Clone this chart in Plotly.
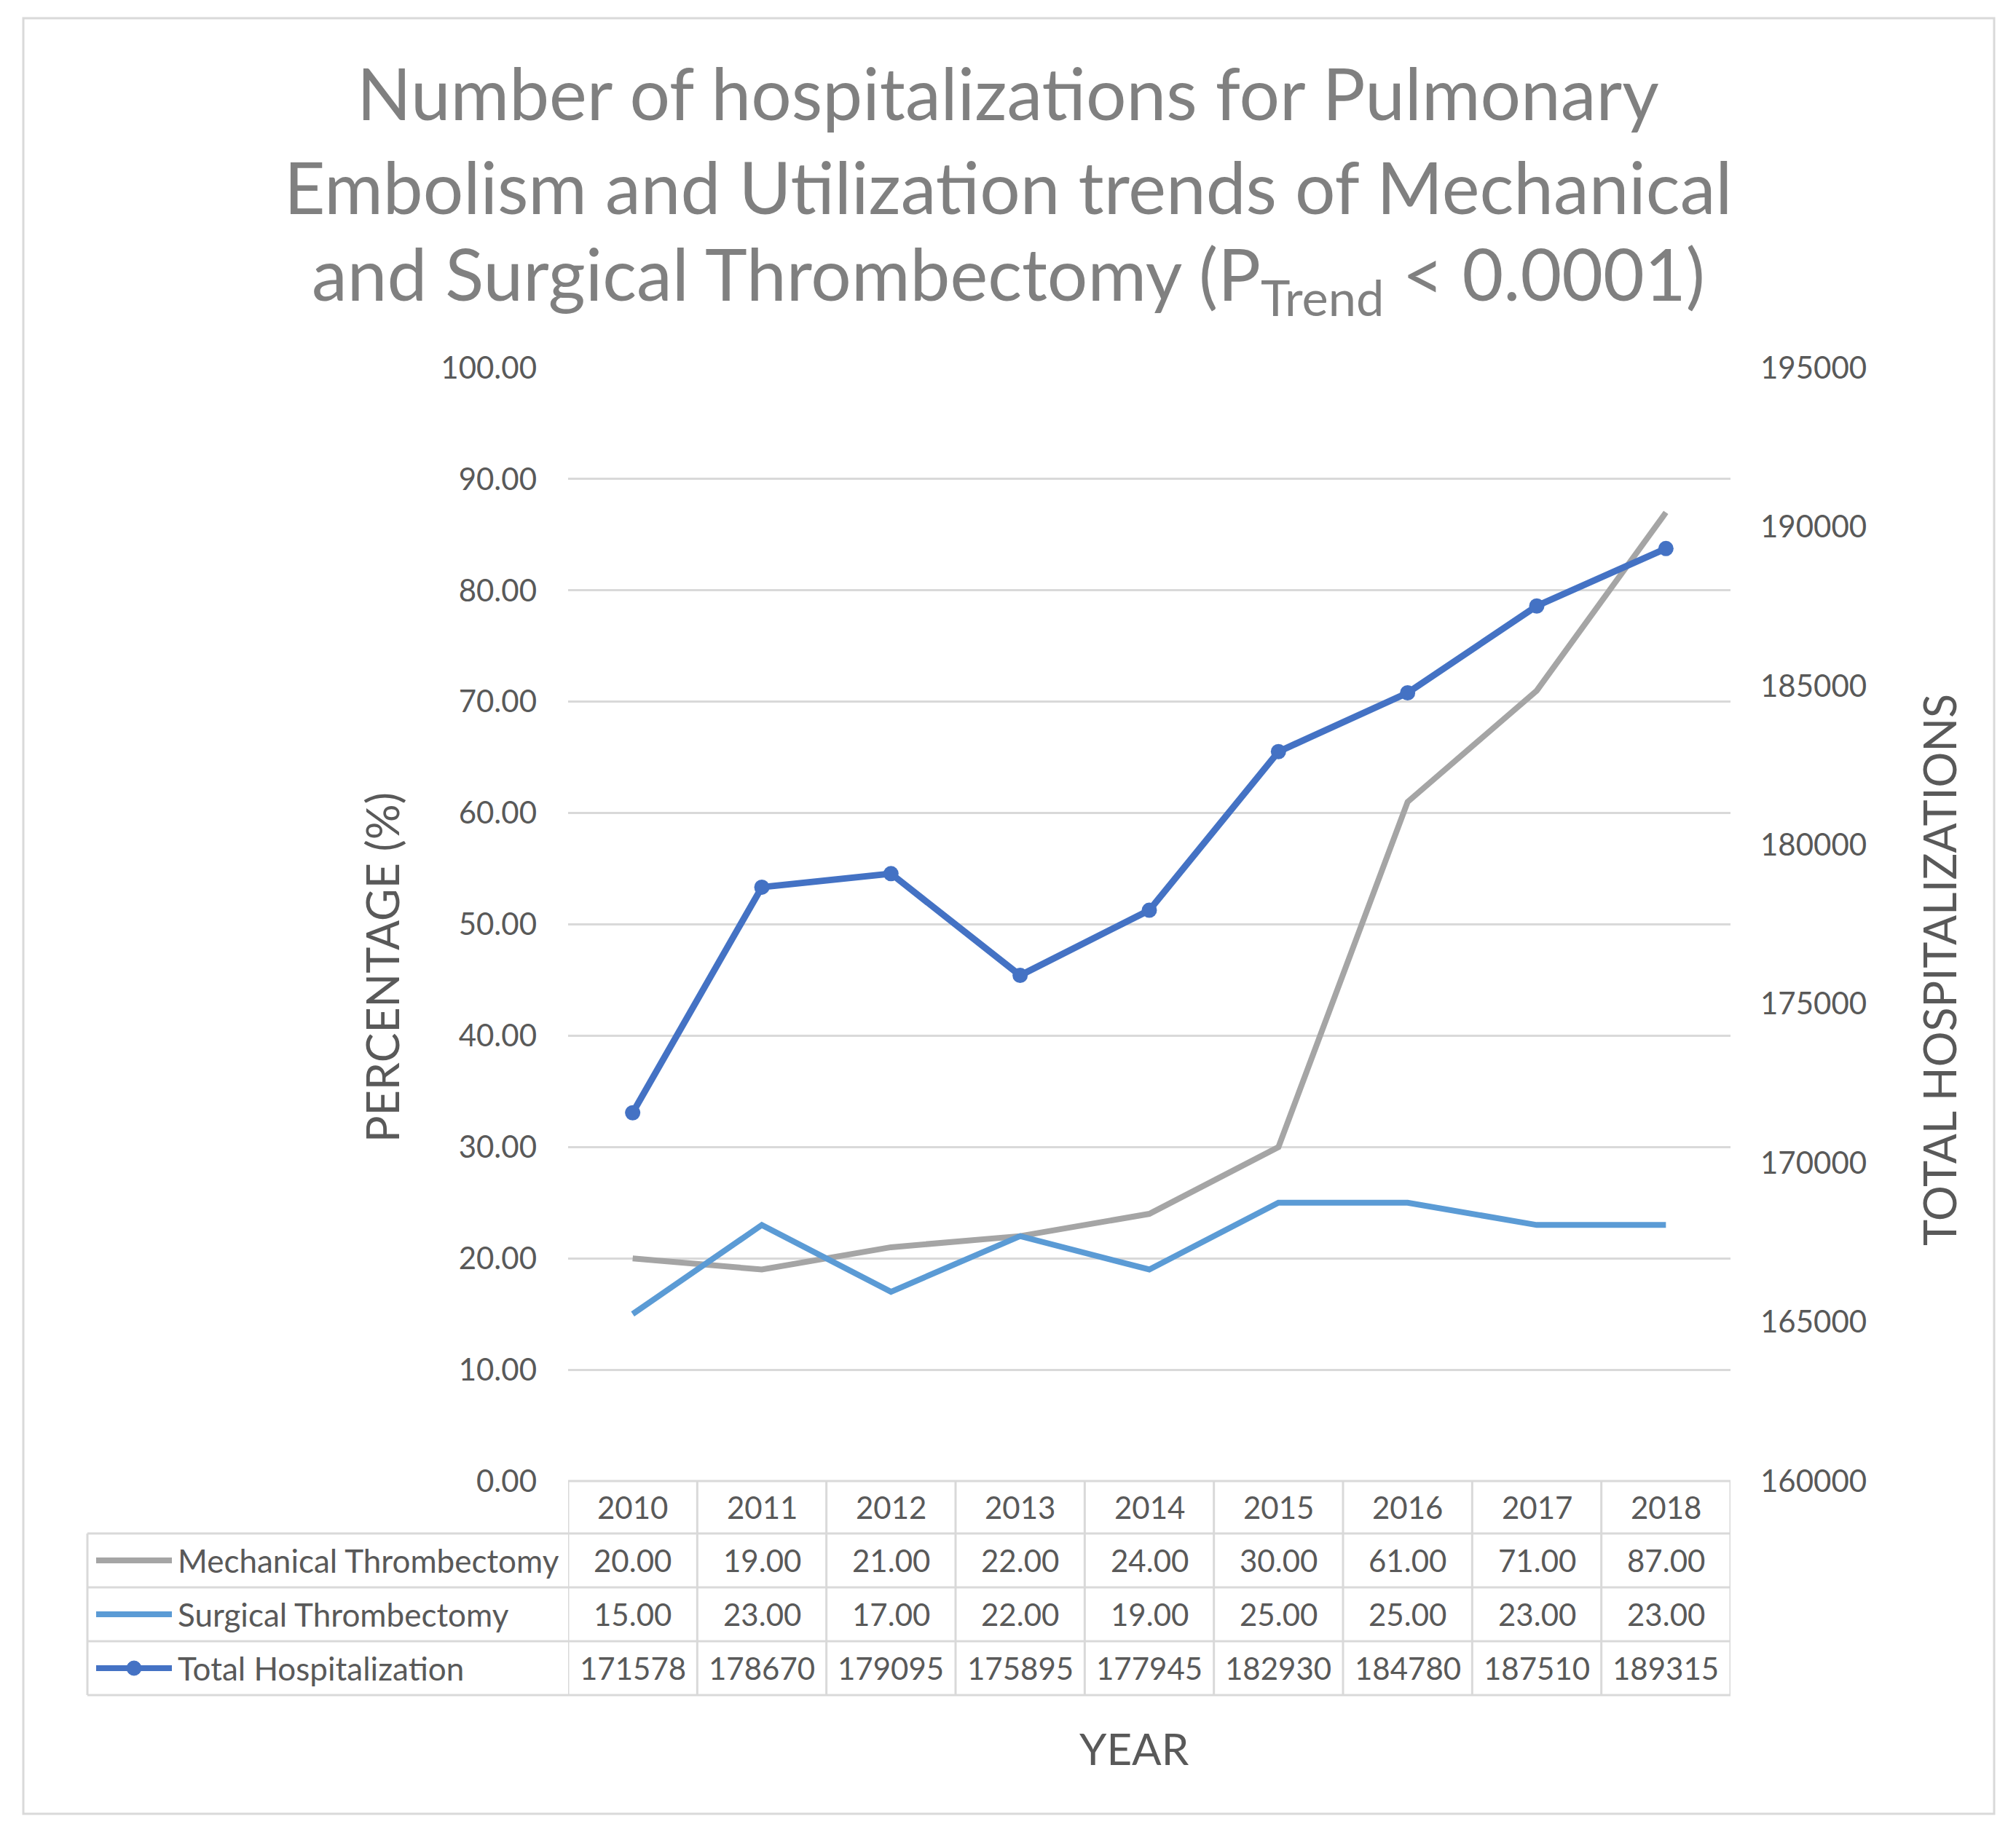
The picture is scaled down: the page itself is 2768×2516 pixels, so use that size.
import plotly.graph_objects as go

# ---------------- data ----------------
years = [2010, 2011, 2012, 2013, 2014, 2015, 2016, 2017, 2018]
mechanical = [20, 19, 21, 22, 24, 30, 61, 71, 87]
surgical = [15, 23, 17, 22, 19, 25, 25, 23, 23]
total_hosp = [171578, 178670, 179095, 175895, 177945, 182930, 184780, 187510, 189315]
series_names = ["Mechanical Thrombectomy", "Surgical Thrombectomy", "Total Hospitalization"]
left_ticks = [0, 10, 20, 30, 40, 50, 60, 70, 80, 90, 100]
right_ticks = [160000, 165000, 170000, 175000, 180000, 185000, 190000, 195000]

# ---------------- style ----------------
OFF = 8  # page body margin
W, H = 2768 - OFF, 2516 - OFF
PL, PR, PT, PB = 780, 2376, 505, 2034  # plot area in reference pixel coords
FONT = "Lato"
C_MECH = "#a5a5a5"
C_SURG = "#5b9bd5"
C_TOT = "#4472c4"
C_TXT = "#595959"
C_GRID = "#d9d9d9"


def px_x(px):
    return (px - PL) / (PR - PL)


def px_y(py):
    return (PB - py) / (PB - PT)


fig = go.Figure()
fig.add_trace(go.Scatter(x=years, y=mechanical, mode="lines", name=series_names[0],
                         line=dict(color=C_MECH, width=8)))
fig.add_trace(go.Scatter(x=years, y=surgical, mode="lines", name=series_names[1],
                         line=dict(color=C_SURG, width=8)))
fig.add_trace(go.Scatter(x=years, y=total_hosp, mode="lines+markers", name=series_names[2],
                         yaxis="y2", line=dict(color=C_TOT, width=9),
                         marker=dict(color=C_TOT, size=21)))

shapes = []
annotations = []

# outer border
shapes.append(dict(type="rect", xref="paper", yref="paper",
                   x0=px_x(32), x1=px_x(2738), y0=px_y(2491), y1=px_y(25),
                   line=dict(color=C_GRID, width=3), layer="below"))

# table geometry
row_px = [2034, 2106, 2180, 2254, 2328]
left_px = 120
x_lo = years[0] - 0.5
x_hi = years[-1] + 0.5
tline = dict(color=C_GRID, width=3)
shapes.append(dict(type="line", xref="x", yref="paper", x0=x_lo, x1=x_hi,
                   y0=px_y(row_px[0]), y1=px_y(row_px[0]), line=tline))
for rp in row_px[1:]:
    shapes.append(dict(type="line", xref="paper", yref="paper", x0=px_x(left_px), x1=1,
                       y0=px_y(rp), y1=px_y(rp), line=tline))
shapes.append(dict(type="line", xref="paper", yref="paper", x0=px_x(left_px), x1=px_x(left_px),
                   y0=px_y(row_px[1]), y1=px_y(row_px[-1]), line=tline))
for i in range(len(years) + 1):
    xv = x_lo + i
    shapes.append(dict(type="line", xref="x", yref="paper", x0=xv, x1=xv,
                       y0=px_y(row_px[0]), y1=px_y(row_px[-1]), line=tline))

tfont = dict(family=FONT, size=42, color=C_TXT)
lfont = dict(family=FONT, size=44, color=C_TXT)
for yr in years:
    annotations.append(dict(x=yr, y=px_y((row_px[0] + row_px[1]) / 2), xref="x", yref="paper",
                            text=str(yr), showarrow=False, font=tfont,
                            xanchor="center", yanchor="middle"))
rows = [
    ([f"{v:.2f}" for v in mechanical], C_MECH, False),
    ([f"{v:.2f}" for v in surgical], C_SURG, False),
    ([str(v) for v in total_hosp], C_TOT, True),
]
for r, (vals, col, mk) in enumerate(rows):
    ypx = (row_px[r + 1] + row_px[r + 2]) / 2
    yc = px_y(ypx)
    for yr, t in zip(years, vals):
        annotations.append(dict(x=yr, y=yc, xref="x", yref="paper", text=t, showarrow=False,
                                font=tfont, xanchor="center", yanchor="middle"))
    shapes.append(dict(type="line", xref="paper", yref="paper", x0=px_x(132), x1=px_x(236),
                       y0=yc, y1=yc, line=dict(color=col, width=8)))
    if mk:
        cx = 184
        shapes.append(dict(type="circle", xref="paper", yref="paper",
                           x0=px_x(cx - 10), x1=px_x(cx + 10), y0=px_y(ypx + 10), y1=px_y(ypx - 10),
                           fillcolor=col, line=dict(color=col, width=1)))
    annotations.append(dict(x=px_x(242), y=yc, xref="paper", yref="paper", text=series_names[r],
                            showarrow=False, font=lfont, xanchor="left", yanchor="middle"))

# title (three lines)
title_lines = [
    "Number of hospitalizations for Pulmonary",
    "Embolism and Utilization trends of Mechanical",
    "and Surgical Thrombectomy (P<sub>Trend</sub> &lt; 0.0001)",
]
title_y = [127, 256, 383]
for t, ty in zip(title_lines, title_y):
    annotations.append(dict(x=px_x(1384), y=px_y(ty), xref="paper", yref="paper", text=t,
                            showarrow=False, xanchor="center", yanchor="middle",
                            font=dict(family=FONT, size=98, color="#808080")))

# axis titles
afont = dict(family=FONT, size=61, color=C_TXT)
annotations.append(dict(x=px_x(524), y=px_y(1329), xref="paper", yref="paper",
                        text="PERCENTAGE (%)", textangle=-90, showarrow=False, font=afont,
                        xanchor="center", yanchor="middle"))
annotations.append(dict(x=px_x(2662), y=px_y(1332), xref="paper", yref="paper",
                        text="TOTAL HOSPITALIZATIONS", textangle=-90, showarrow=False, font=afont,
                        xanchor="center", yanchor="middle"))
annotations.append(dict(x=px_x(1557), y=px_y(2401), xref="paper", yref="paper",
                        text="YEAR", showarrow=False, font=dict(family=FONT, size=60, color=C_TXT),
                        xanchor="center", yanchor="middle"))

fig.update_layout(
    width=W, height=H,
    margin=dict(l=PL - OFF, r=W - (PR - OFF), t=PT - OFF, b=H - (PB - OFF), pad=0),
    paper_bgcolor="white", plot_bgcolor="white",
    showlegend=False,
    font=dict(family=FONT, color=C_TXT),
    xaxis=dict(range=[x_lo, x_hi], showticklabels=False, showgrid=False, zeroline=False,
               showline=False, ticks=""),
    yaxis=dict(range=[0, 100], tickvals=left_ticks, tickformat=".2f", showgrid=True,
               gridcolor=C_GRID, gridwidth=3, zeroline=False, showline=False, ticks="",
               ticklabelstandoff=42, tickfont=dict(family=FONT, size=42, color=C_TXT)),
    yaxis2=dict(range=[160000, 195000], tickvals=right_ticks, tickformat="d", overlaying="y",
                side="right", showgrid=False, zeroline=False, showline=False, ticks="",
                ticklabelstandoff=40, tickfont=dict(family=FONT, size=42, color=C_TXT)),
    shapes=shapes,
    annotations=annotations,
)

fig.write_html("out.html")
